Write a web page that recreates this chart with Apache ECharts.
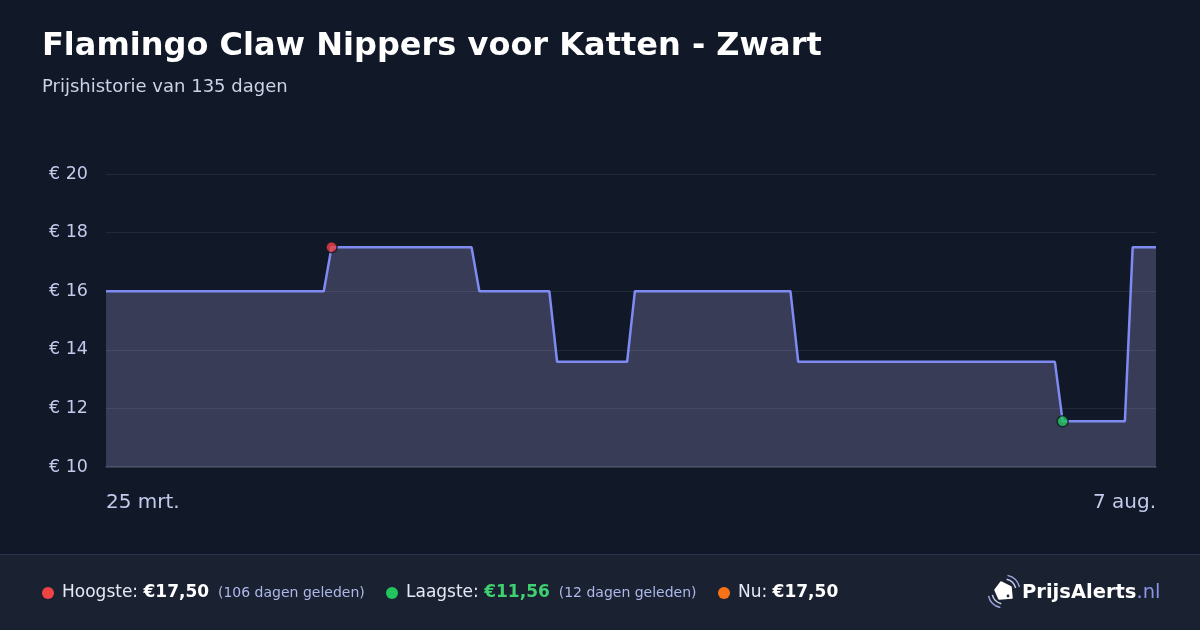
<!DOCTYPE html>
<html>
<head>
<meta charset="utf-8">
<script src="https://cdn.jsdelivr.net/npm/echarts@6/dist/echarts.min.js"></script>
<style>
html,body{margin:0;padding:0;background:#111827;}
#c{width:1200px;height:630px;}
</style>
</head>
<body>
<div id="c"></div>
<script>
// ---- data ----
const startDate = '2025-03-25';
const dayCount = 136;
const prices = [
  16.00,16.00,16.00,16.00,16.00,16.00,16.00,16.00,16.00,16.00,
  16.00,16.00,16.00,16.00,16.00,16.00,16.00,16.00,16.00,16.00,
  16.00,16.00,16.00,16.00,16.00,16.00,16.00,16.00,16.00,
  17.50,17.50,17.50,17.50,17.50,17.50,17.50,17.50,17.50,17.50,
  17.50,17.50,17.50,17.50,17.50,17.50,17.50,17.50,17.50,
  16.00,16.00,16.00,16.00,16.00,16.00,16.00,16.00,16.00,16.00,
  13.59,13.59,13.59,13.59,13.59,13.59,13.59,13.59,13.59,13.59,
  16.00,16.00,16.00,16.00,16.00,16.00,16.00,16.00,16.00,16.00,
  16.00,16.00,16.00,16.00,16.00,16.00,16.00,16.00,16.00,16.00,16.00,
  13.59,13.59,13.59,13.59,13.59,13.59,13.59,13.59,13.59,13.59,
  13.59,13.59,13.59,13.59,13.59,13.59,13.59,13.59,13.59,13.59,
  13.59,13.59,13.59,13.59,13.59,13.59,13.59,13.59,13.59,13.59,
  13.59,13.59,13.59,13.59,
  11.56,11.56,11.56,11.56,11.56,11.56,11.56,11.56,11.56,
  17.50,17.50,17.50,17.50
];
const monthNames = ['jan.','feb.','mrt.','apr.','mei','jun.','jul.','aug.','sep.','okt.','nov.','dec.'];
const yTicks = {min: 10, max: 20, interval: 2};
const titleText = 'Flamingo Claw Nippers voor Katten - Zwart';
const subtitleText = 'Prijshistorie van 135 dagen';
const highText = {label: 'Hoogste: ', value: '€17,50', ago: '(106 dagen geleden)'};
const lowText = {label: 'Laagste: ', value: '€11,56', ago: '(12 dagen geleden)'};
const nowText = {label: 'Nu: ', value: '€17,50'};

// categories (dates)
const categories = [];
{
  const d0 = new Date(startDate + 'T12:00:00Z');
  for (let i = 0; i < dayCount; i++) {
    const d = new Date(d0.getTime() + i * 86400000);
    categories.push(d.getUTCDate() + ' ' + monthNames[d.getUTCMonth()]);
  }
}
const maxVal = Math.max(...prices);
const minVal = Math.min(...prices);
const maxIdx = prices.indexOf(maxVal);
const minIdx = prices.indexOf(minVal);

const chart = echarts.init(document.getElementById('c'), null, {renderer: 'canvas'});
const F = "DejaVu Sans";
const lastIdx = categories.length - 1;

chart.setOption({
  backgroundColor: '#111827',
  animation: false,
  textStyle: {fontFamily: F},
  grid: {left: 106, right: 44, top: 174, bottom: 163, containLabel: false},
  xAxis: {
    type: 'category',
    data: categories,
    boundaryGap: false,
    axisLine: {show: true, lineStyle: {color: '#3a4152', width: 1.5}},
    axisTick: {show: false},
    splitLine: {show: false},
    axisLabel: {
      color: '#c3cbec', fontFamily: F, fontSize: 20, margin: 26,
      interval: (i) => i === 0 || i === lastIdx,
      alignMinLabel: 'left', alignMaxLabel: 'right',
      showMinLabel: true, showMaxLabel: true
    }
  },
  yAxis: {
    type: 'value',
    min: yTicks.min, max: yTicks.max, interval: yTicks.interval,
    axisLine: {show: false}, axisTick: {show: false},
    splitLine: {lineStyle: {color: 'rgba(255,255,255,0.08)', width: 1}},
    axisLabel: {color: '#c3cbec', fontFamily: F, fontSize: 17.5, margin: 18,
      formatter: (v) => '€ ' + v}
  },
  series: [
    {
      type: 'line',
      data: prices,
      showSymbol: false,
      lineStyle: {color: '#7f8bf3', width: 2.5},
      areaStyle: {color: 'rgba(150,147,199,0.3)', opacity: 1, origin: 'start'},
      z: 2
    },
    {
      type: 'scatter',
      data: [
        {value: [maxIdx, maxVal], itemStyle: {color: '#ef4444'}},
        {value: [minIdx, minVal], itemStyle: {color: '#22c55e'}}
      ],
      symbolSize: 11,
      itemStyle: {borderColor: '#111827', borderWidth: 1.5},
      z: 5
    }
  ],
  graphic: [
    {type: 'text', left: 42, top: 31, style: {text: titleText, fill: '#ffffff', fontFamily: F, fontWeight: 'bold', fontSize: 32}},
    {type: 'text', left: 42, top: 78, style: {text: subtitleText, fill: '#cdd3e6', fontFamily: F, fontSize: 18}},
    {type: 'rect', shape: {x: 0, y: 555, width: 1200, height: 75}, style: {fill: '#1a2131'}},
    {type: 'rect', shape: {x: 0, y: 554, width: 1200, height: 1}, style: {fill: '#283150'}},
    {type: 'circle', shape: {cx: 48, cy: 593, r: 6}, style: {fill: '#ef4444'}},
    {type: 'text', x: 62, y: 593, style: {
      text: '{a|' + highText.label + '}{b|' + highText.value + '}{c|  ' + highText.ago + '}',
      verticalAlign: 'middle',
      rich: {
        a: {fill: '#e6e9f5', fontFamily: F, fontSize: 17},
        b: {fill: '#ffffff', fontFamily: F, fontWeight: 'bold', fontSize: 17},
        c: {fill: '#aeb8ea', fontFamily: F, fontSize: 14}
      }}},
    {type: 'circle', shape: {cx: 392, cy: 593, r: 6}, style: {fill: '#22c55e'}},
    {type: 'text', x: 406, y: 593, style: {
      text: '{a|' + lowText.label + '}{b|' + lowText.value + '}{c|  ' + lowText.ago + '}',
      verticalAlign: 'middle',
      rich: {
        a: {fill: '#e6e9f5', fontFamily: F, fontSize: 17},
        b: {fill: '#3fd070', fontFamily: F, fontWeight: 'bold', fontSize: 17},
        c: {fill: '#aeb8ea', fontFamily: F, fontSize: 14}
      }}},
    {type: 'circle', shape: {cx: 724, cy: 593, r: 6}, style: {fill: '#f97316'}},
    {type: 'text', x: 738, y: 593, style: {
      text: '{a|' + nowText.label + '}{b|' + nowText.value + '}',
      verticalAlign: 'middle',
      rich: {
        a: {fill: '#e6e9f5', fontFamily: F, fontSize: 17},
        b: {fill: '#ffffff', fontFamily: F, fontWeight: 'bold', fontSize: 17}
      }}},
    // logo icon
    {type: 'polygon', shape: {points: [[995,590],[1001,582],[1011,587],[1012,598],[999,599]]},
      style: {fill: '#ffffff', lineJoin: 'round', stroke: '#ffffff', lineWidth: 1.5}},
    {type: 'circle', shape: {cx: 1008, cy: 596, r: 1.4}, style: {fill: '#1a2131'}},
    {type: 'arc', shape: {cx: 1004, cy: 591, r: 12, startAngle: -1.35, endAngle: -0.25},
      style: {stroke: '#c6ccee', lineWidth: 1.5, fill: null}},
    {type: 'arc', shape: {cx: 1004, cy: 591, r: 16, startAngle: -1.35, endAngle: -0.25},
      style: {stroke: '#9aa3e0', lineWidth: 1.5, fill: null}},
    {type: 'arc', shape: {cx: 1004, cy: 592, r: 12, startAngle: 1.8, endAngle: 2.9},
      style: {stroke: '#c6ccee', lineWidth: 1.5, fill: null}},
    {type: 'arc', shape: {cx: 1004, cy: 592, r: 16, startAngle: 1.8, endAngle: 2.9},
      style: {stroke: '#9aa3e0', lineWidth: 1.5, fill: null}},
    {type: 'text', x: 1022, y: 593, style: {
      text: '{a|PrijsAlerts}{b|.nl}', verticalAlign: 'middle',
      rich: {
        a: {fill: '#ffffff', fontFamily: F, fontWeight: 'bold', fontSize: 19.5},
        b: {fill: '#8b93e6', fontFamily: F, fontSize: 19.5}
      }}}
  ]
});
</script>
</body>
</html>
